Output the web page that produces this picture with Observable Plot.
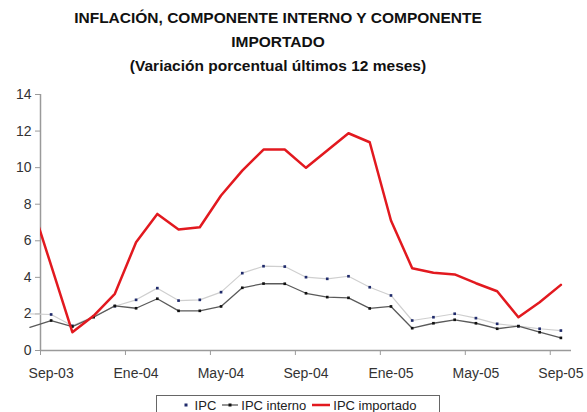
<!DOCTYPE html>
<html>
<head>
<meta charset="utf-8">
<script src="https://cdn.jsdelivr.net/npm/d3@7"></script>
<script src="https://cdn.jsdelivr.net/npm/@observablehq/plot@0.6"></script>
<style>
  html, body { margin: 0; padding: 0; background: #fff; }
  #wrap { position: relative; width: 587px; height: 412px; overflow: hidden; font-family: "Liberation Sans", Arial, sans-serif; }
  #title { position: absolute; left: 0; top: 6px; width: 556px; text-align: center; font-weight: bold; font-size: 15.5px; line-height: 24px; color: #111; }
  #chart { position: absolute; left: 0; top: 80px; }
  #legend { position: absolute; left: 156px; top: 395px; width: 284px; height: 20px; border: 1px solid #666; box-sizing: border-box; display: flex; align-items: center; justify-content: center; font-size: 13px; color: #222; background: #fff; }
  #legend span.item { display: inline-flex; align-items: center; margin: 0 3px; }
  #legend svg { margin-right: 3px; }
</style>
</head>
<body>
<div id="wrap">
  <div id="title">INFLACIÓN, COMPONENTE INTERNO Y COMPONENTE<br>IMPORTADO<br>(Variación porcentual últimos 12 meses)</div>
  <div id="chart"></div>
  <div id="legend"></div>
</div>
<script>
// Monthly values, Aug-03 (partly outside the plot) through Sep-05
const months = ["Ago-03","Sep-03","Oct-03","Nov-03","Dic-03","Ene-04","Feb-04","Mar-04","Abr-04","May-04","Jun-04","Jul-04","Ago-04","Sep-04","Oct-04","Nov-04","Dic-04","Ene-05","Feb-05","Mar-05","Abr-05","May-05","Jun-05","Jul-05","Ago-05","Sep-05"];
const ipc       = [2.00, 1.97, 1.35, 1.86, 2.42, 2.77, 3.41, 2.73, 2.77, 3.19, 4.23, 4.61, 4.59, 4.01, 3.92, 4.06, 3.46, 3.01, 1.64, 1.82, 2.01, 1.77, 1.46, 1.33, 1.19, 1.09];
const interno   = [1.27, 1.64, 1.31, 1.82, 2.44, 2.31, 2.83, 2.17, 2.17, 2.41, 3.43, 3.66, 3.65, 3.13, 2.92, 2.88, 2.30, 2.41, 1.22, 1.49, 1.68, 1.49, 1.19, 1.33, 1.00, 0.69];
const importado = [8.30, 4.65, 1.00, 1.90, 3.10, 5.92, 7.47, 6.62, 6.74, 8.48, 9.84, 10.99, 10.99, 9.99, 10.94, 11.88, 11.39, 7.11, 4.50, 4.25, 4.16, 3.68, 3.24, 1.82, 2.64, 3.59];
const tickLabels = ["Sep-03","Ene-04","May-04","Sep-04","Ene-05","May-05","Sep-05"];
const yTicks = [0, 2, 4, 6, 8, 10, 12, 14];
const seriesNames = ["IPC", "IPC interno", "IPC importado"];

const toRows = arr => arr.map((v, k) => ({i: k - 1, v, m: months[k]}));
const rIPC = toRows(ipc), rInt = toRows(interno), rImp = toRows(importado);
const labelIdx = tickLabels.map((_, k) => k * 4);
const boundaries = tickLabels.map((_, k) => k * 4 - 0.5);
const n = months.length - 1;

const chart = Plot.plot({
  width: 587,
  height: 310,
  marginTop: 14,
  marginBottom: 40,
  marginLeft: 40,
  marginRight: 16,
  style: {fontFamily: '"Liberation Sans", Arial, sans-serif', fontSize: "14px", color: "#333", background: "#fff"},
  x: {type: "linear", domain: [-0.5, n - 0.5]},
  y: {domain: [0, 14]},
  marks: [
    Plot.axisY({ticks: yTicks, tickSize: 5, tickPadding: 4, stroke: "#9a9a9a", fill: "#333", label: null}),
    Plot.axisX({ticks: boundaries, tickSize: 5, tickFormat: () => "", stroke: "#9a9a9a", label: null}),
    Plot.axisX({ticks: labelIdx, tickSize: 0, tickPadding: 18, tickFormat: d => tickLabels[Math.round(d / 4)], fill: "#333", label: null}),
    Plot.ruleX([-0.5], {y1: 0, y2: 14, stroke: "#9a9a9a", strokeWidth: 1.5}),
    Plot.ruleY([0], {stroke: "#9a9a9a", strokeWidth: 1.5}),
    Plot.line(rIPC, {x: "i", y: "v", stroke: "#cfcfcf", strokeWidth: 1.2}),
    Plot.dot(rIPC.filter(d => d.i >= 0), {x: "i", y: "v", r: 1.5, symbol: "square", fill: "#1f2a6b"}),
    Plot.line(rInt, {x: "i", y: "v", stroke: "#5a5a5a", strokeWidth: 1.3}),
    Plot.dot(rInt.filter(d => d.i >= 0), {x: "i", y: "v", r: 1.5, symbol: "square", fill: "#111"}),
    Plot.line(rImp, {x: "i", y: "v", stroke: "#e2191f", strokeWidth: 2.5, clip: true})
  ]
});
document.getElementById("chart").appendChild(chart);

// legend
const swatches = [
  `<svg width="12" height="10"><rect x="4.5" y="3.5" width="3" height="3" fill="#1f2a6b"/></svg>`,
  `<svg width="16" height="10"><line x1="0" y1="5" x2="16" y2="5" stroke="#5a5a5a" stroke-width="1.3"/><rect x="6.5" y="3.5" width="3" height="3" fill="#111"/></svg>`,
  `<svg width="18" height="10"><line x1="0" y1="5" x2="18" y2="5" stroke="#e2191f" stroke-width="2.5"/></svg>`
];
document.getElementById("legend").innerHTML = seriesNames.map((s, k) => `<span class="item">${swatches[k]}${s}</span>`).join("");
</script>
</body>
</html>
